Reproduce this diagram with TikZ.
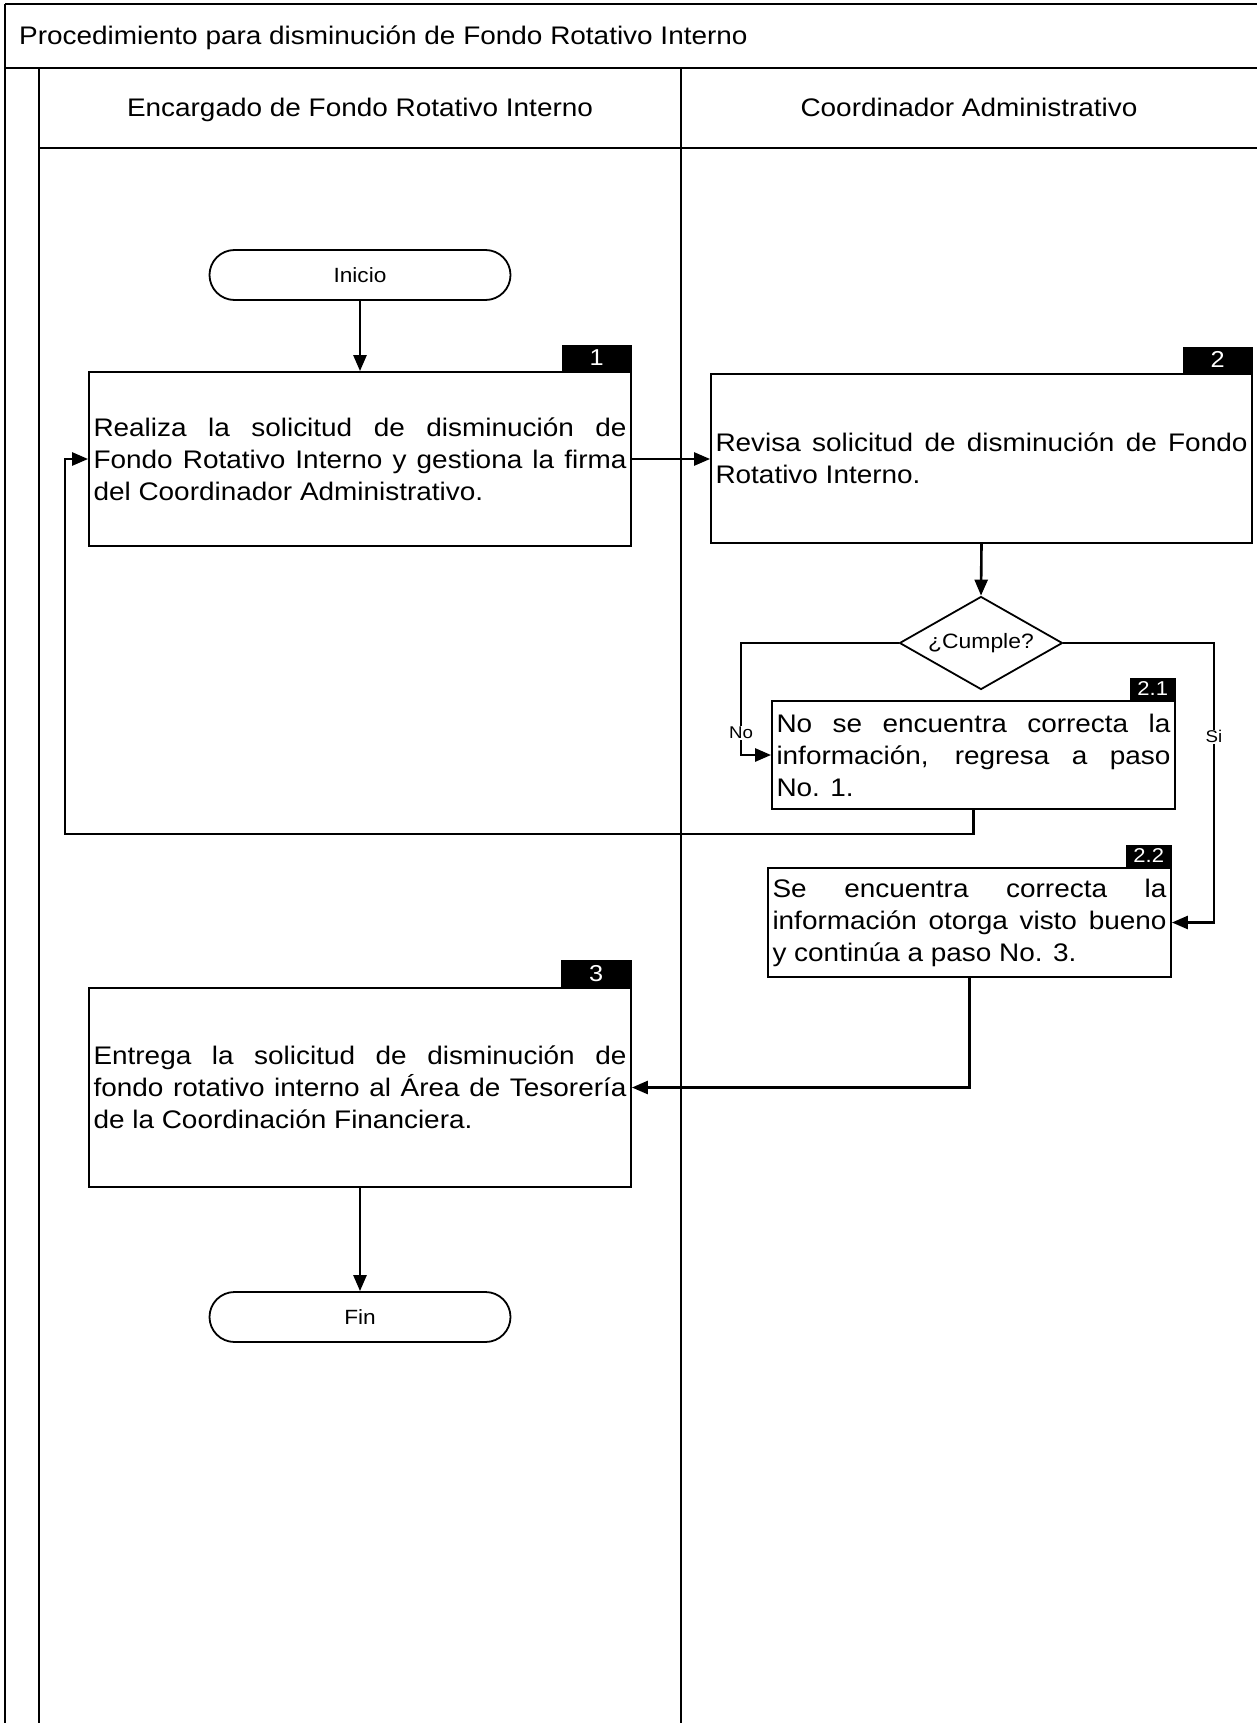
\documentclass[tikz,border=0pt]{standalone}
\usepackage{fontspec}
\setmainfont[FakeStretch=1.1]{Liberation Sans}
\usepackage{tikz}
\usetikzlibrary{shapes.geometric,arrows.meta,positioning}

\begin{document}
\begin{tikzpicture}[
		x=1pt,y=-1pt,
		lane/.style={
			line width=2.4pt
		},
		cab/.style={
			anchor=base,
			inner sep=0pt,
			font=\fontsize{25.4}{30}\selectfont
		},
		term/.style={
			draw,
			line width=1.8pt,
			rounded corners=25pt,
			minimum width=301pt,
			minimum height=50pt,
			font=\fontsize{20.6}{24}\selectfont
		},
		paso/.style={
			draw,
			line width=1.8pt,
			inner sep=4.5pt,
			align=justify,
			font=\fontsize{25.4}{32}\selectfont
		},
		decision/.style={
			draw,
			diamond,
			aspect=1.75,
			inner sep=0pt,
			line width=1.8pt,
			minimum width=163pt,
			minimum height=93pt,
			font=\fontsize{20.8}{24}\selectfont
		},
		num/.style={
			fill=black,
			text=white,
			inner sep=0pt,
			anchor=south east
		},
		etiq/.style={
			fill=white,
			inner sep=1pt,
			font=\fontsize{17}{20}\selectfont
		},
		flecha/.style={
			line width=2.6pt,
			-{Triangle[length=16pt,width=13pt]}
		}
		]
		
		\useasboundingbox (0,0) rectangle (1257,1723);
		
		\draw[lane] (5,4) -- (1260,4);
		\draw[lane] (5,4) -- (5,1726);
		\draw[lane] (5,68) -- (1260,68);
		\draw[lane] (39,68) -- (39,1726);
		\draw[lane] (39,148) -- (1260,148);
		\draw[lane] (681,68) -- (681,1726);
		
		\node[cab, anchor=base west] (titulo) at (19,45) {Procedimiento para disminución de Fondo Rotativo Interno};
		\node[cab] (carril1) at (360,117) {Encargado de Fondo Rotativo Interno};
		\node[cab] (carril2) at (969,117) {Coordinador Administrativo};
		
		\node[term] (inicio) at (360,275) {Inicio};
		
		\node[paso, text width=533pt, minimum height=174pt] at (360,459) 
		(p1) {Realiza la solicitud de disminución de\linebreak Fondo Rotativo Interno y gestiona la firma\linebreak del Coordinador Administrativo.};
		\node[num, minimum width=70pt, minimum height=26pt, font=\fontsize{23}{26}\selectfont] 
		(n1) at (p1.north east) {1};
		
		\node[paso, text width=532pt, minimum height=169pt] at (981.5,458.5) 
		(p2) {Revisa solicitud de disminución de Fondo\linebreak Rotativo Interno.};
		\node[num, minimum width=70pt, minimum height=26pt, font=\fontsize{23}{26}\selectfont] 
		(n2) at (p2.north east) {2};
		
		\node[decision] (cumple) at (981,643) {¿Cumple?};
		
		\node[paso, text width=394pt, minimum height=108pt] at (973.5,755) 
		(p21) {No se encuentra correcta la\linebreak información, regresa a paso\linebreak No. 1.};
		\node[num, minimum width=46pt, minimum height=22pt, font=\fontsize{20}{22}\selectfont] 
		(n21) at (p21.north east) {2.1};
		
		\node[paso, text width=394pt, minimum height=109pt] at (969.5,922.5) 
		(p22) {Se encuentra correcta la\linebreak información otorga visto bueno\linebreak y continúa a paso No. 3.};
		\node[num, minimum width=46pt, minimum height=22pt, font=\fontsize{20}{22}\selectfont] 
		(n22) at (p22.north east) {2.2};
		
		\node[paso, text width=533pt, minimum height=199pt] at (360,1087.5) 
		(p3) {Entrega la solicitud de disminución de\linebreak fondo rotativo interno al Área de Tesorería\linebreak de la Coordinación Financiera.};
		\node[num, minimum width=71pt, minimum height=27pt, font=\fontsize{23}{26}\selectfont] 
		(n3) at (p3.north east) {3};
		
		\node[term] (fin) at (360,1317) {Fin};
		
		\draw[flecha] (inicio) -- (p1);
		\draw[flecha] (p1.east) -- (p1.east -| p2.west);
		\draw[flecha] (p2.south) -- (cumple.north);
		\draw[flecha] (cumple.west) -| node[etiq, pos=0.9] {No} ([xshift=-30pt]p21.west) -- (p21.west);
		\draw[flecha] (cumple.east) -| node[etiq, pos=0.668] {Si} ([xshift=42pt]p22.east) -- (p22.east);
		\draw[flecha] (p21.south) -- ++(0,24) -| ([xshift=-23pt]p1.west) -- (p1.west);
		\draw[flecha] (p22.south) |- (p3.east);
		\draw[flecha] (p3) -- (fin);
		
		\end{tikzpicture}
\end{document}
